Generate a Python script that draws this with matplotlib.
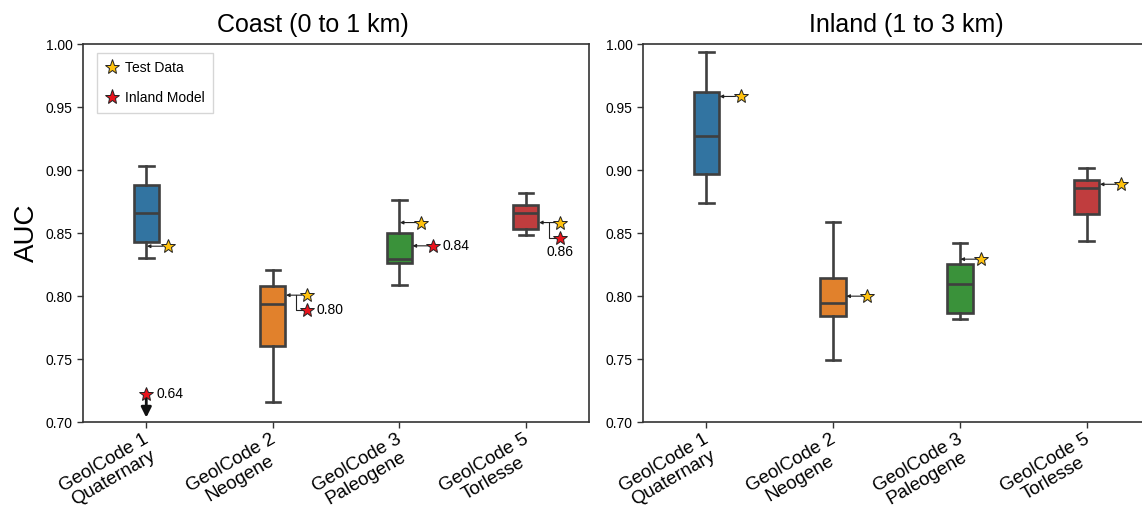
import matplotlib
matplotlib.use("Agg")
import matplotlib.pyplot as plt
import matplotlib.transforms as mtransforms
from matplotlib.lines import Line2D
import numpy as np

plt.rcParams['font.family'] = ['Liberation Sans', 'DejaVu Sans']

categories = ["GeolCode 1\nQuaternary", "GeolCode 2\nNeogene", "GeolCode 3\nPaleogene", "GeolCode 5\nTorlesse"]
colors = ['#3274a1', '#e1812c', '#3a923a', '#c03d3e']

# Coast (0 to 1 km) box statistics
coast_whislo = [0.830, 0.716, 0.8085, 0.849]
coast_q1 = [0.843, 0.7606, 0.826, 0.8537]
coast_med = [0.8664, 0.7937, 0.8294, 0.8664]
coast_q3 = [0.8886, 0.8082, 0.8505, 0.8728]
coast_whishi = [0.9032, 0.8206, 0.8762, 0.882]
coast_test = [0.8397, 0.8008, 0.8585, 0.8585]
coast_inland_model = [0.64, 0.80, 0.84, 0.86]
coast_inland_labels = ["0.64", "0.80", "0.84", "0.86"]

# Inland (1 to 3 km) box statistics
inland_whislo = [0.8744, 0.7492, 0.782, 0.8439]
inland_q1 = [0.8974, 0.7844, 0.7865, 0.8653]
inland_med = [0.927, 0.7947, 0.8093, 0.8857]
inland_q3 = [0.9621, 0.8148, 0.8254, 0.8923]
inland_whishi = [0.9939, 0.8587, 0.8423, 0.9018]
inland_test = [0.9587, 0.80, 0.8294, 0.8889]

ylim = (0.70, 1.00)
W = 0.2
EDGE = '#3f3f3f'
YELLOW = '#FFC20E'
RED = '#E8141C'

fig = plt.figure(figsize=(11.42, 5.09), dpi=100)
axL = fig.add_axes([0.0727, 0.1709, 0.4431, 0.7417])
axR = fig.add_axes([0.5630, 0.1709, 0.4440, 0.7417])


def draw_boxes(ax, wlo, q1, med, q3, whi):
    stats = []
    for i in range(len(categories)):
        stats.append(dict(whislo=wlo[i], q1=q1[i], med=med[i], q3=q3[i], whishi=whi[i], fliers=[]))
    bp = ax.bxp(stats, positions=np.arange(len(categories)), widths=W, capwidths=0.115,
                patch_artist=True, showfliers=False,
                boxprops=dict(edgecolor=EDGE, linewidth=1.9),
                medianprops=dict(color=EDGE, linewidth=1.9),
                whiskerprops=dict(color=EDGE, linewidth=1.9),
                capprops=dict(color=EDGE, linewidth=1.9))
    for patch, c in zip(bp['boxes'], colors):
        patch.set_facecolor(c)


def target_x(i, v, q1, q3):
    # arrow points at box edge if value within box, else at whisker line
    if q1[i] <= v <= q3[i]:
        return i + W / 2
    return i


def star(ax, x, y, color):
    ax.plot(x, y, marker='*', markersize=10.5, color=color, markeredgecolor='#222222',
            markeredgewidth=0.7, zorder=5, clip_on=False)


def arrow(ax, x0, y, x1):
    ax.annotate('', xy=(x1 + 0.005, y), xytext=(x0 - 0.04, y),
                arrowprops=dict(arrowstyle='-|>', color='#222222', lw=0.8,
                                mutation_scale=5, shrinkA=0, shrinkB=0), zorder=4)


ARR = 0.17

for ax, stats, test in [(axL, (coast_whislo, coast_q1, coast_med, coast_q3, coast_whishi), coast_test),
                        (axR, (inland_whislo, inland_q1, inland_med, inland_q3, inland_whishi), inland_test)]:
    draw_boxes(ax, *stats)
    q1, q3 = stats[1], stats[3]
    for i, v in enumerate(test):
        tx = target_x(i, v, q1, q3)
        sx = tx + ARR
        arrow(ax, sx, v, tx)
        star(ax, sx, v, YELLOW)

# Inland model stars on coast panel
# GeolCode 1: off-axis value, drawn at bottom with down arrow
i = 0
ym = 0.722
star(axL, i, ym, RED)
axL.annotate('', xy=(i, 0.7035), xytext=(i, 0.7185),
             arrowprops=dict(arrowstyle='-|>', color='#111111', lw=2, mutation_scale=15,
                             shrinkA=0, shrinkB=0), zorder=4)
axL.text(i + 0.08, ym, coast_inland_labels[0], va='center', ha='left', fontsize=10)

# GeolCode 2 and 5: same value as test data -> elbow connector with offset star
for i, pos in [(1, 'right'), (3, 'below')]:
    v = coast_test[i]
    tx = target_x(i, v, coast_q1, coast_q3)
    sx = tx + ARR
    ym = v - 0.012
    ex = tx + 0.085
    axL.plot([ex, ex, sx - 0.03], [v, ym, ym], color='#222222', lw=0.8, zorder=3)
    star(axL, sx, ym, RED)
    if pos == 'right':
        axL.text(sx + 0.075, ym, coast_inland_labels[i], va='center', ha='left', fontsize=10)
    else:
        axL.text(sx, ym - 0.006, coast_inland_labels[i], va='top', ha='center', fontsize=10)

# GeolCode 3: separate value with its own arrow
i = 2
v = coast_inland_model[i]
tx = target_x(i, v, coast_q1, coast_q3)
sx = tx + ARR
arrow(axL, sx, v, tx)
star(axL, sx, v, RED)
axL.text(sx + 0.075, v, coast_inland_labels[i], va='center', ha='left', fontsize=10)

offset = mtransforms.ScaledTranslation(-3 / 100, -8.5 / 100, fig.dpi_scale_trans)
for ax, title, tx_ in [(axL, "Coast (0 to 1 km)", 0.455), (axR, "Inland (1 to 3 km)", 0.52)]:
    ax.set_xlim(-0.5, len(categories) - 0.5)
    ax.set_ylim(*ylim)
    ax.set_yticks(np.arange(0.70, 1.001, 0.05))
    ax.set_yticklabels([f"{t:.2f}" for t in np.arange(0.70, 1.001, 0.05)], fontsize=10)
    ax.set_xticks(np.arange(len(categories)))
    ax.set_xticklabels([''] * len(categories))
    for k, lab in enumerate(categories):
        ax.text(k, 0, lab, transform=ax.get_xaxis_transform() + offset, fontsize=13.5,
                rotation=30, ha='right', va='top', rotation_mode='anchor',
                multialignment='center', linespacing=1.1, clip_on=False)
    ax.set_title(title, fontsize=18, pad=9, x=tx_)
    for s in ax.spines.values():
        s.set_color('#333333')
        s.set_linewidth(1.2)
    ax.tick_params(color='#333333', length=4, width=1)

axL.set_ylabel("AUC", fontsize=20)

handles = [Line2D([], [], marker='*', linestyle='none', markersize=11, color=YELLOW,
                  markeredgecolor='#222222', markeredgewidth=0.7, label='Test Data'),
           Line2D([], [], marker='*', linestyle='none', markersize=11, color=RED,
                  markeredgecolor='#222222', markeredgewidth=0.7, label='Inland Model')]
axL.legend(handles=handles, loc='upper left', fontsize=10, labelspacing=1.2,
           handlelength=1.0, handletextpad=0.5, borderpad=0.55, borderaxespad=0,
           frameon=True, edgecolor='#cccccc', fancybox=False,
           bbox_to_anchor=(14 / 506, 1 - 8.5 / 377.5))

fig.savefig('out.png', dpi=100)
